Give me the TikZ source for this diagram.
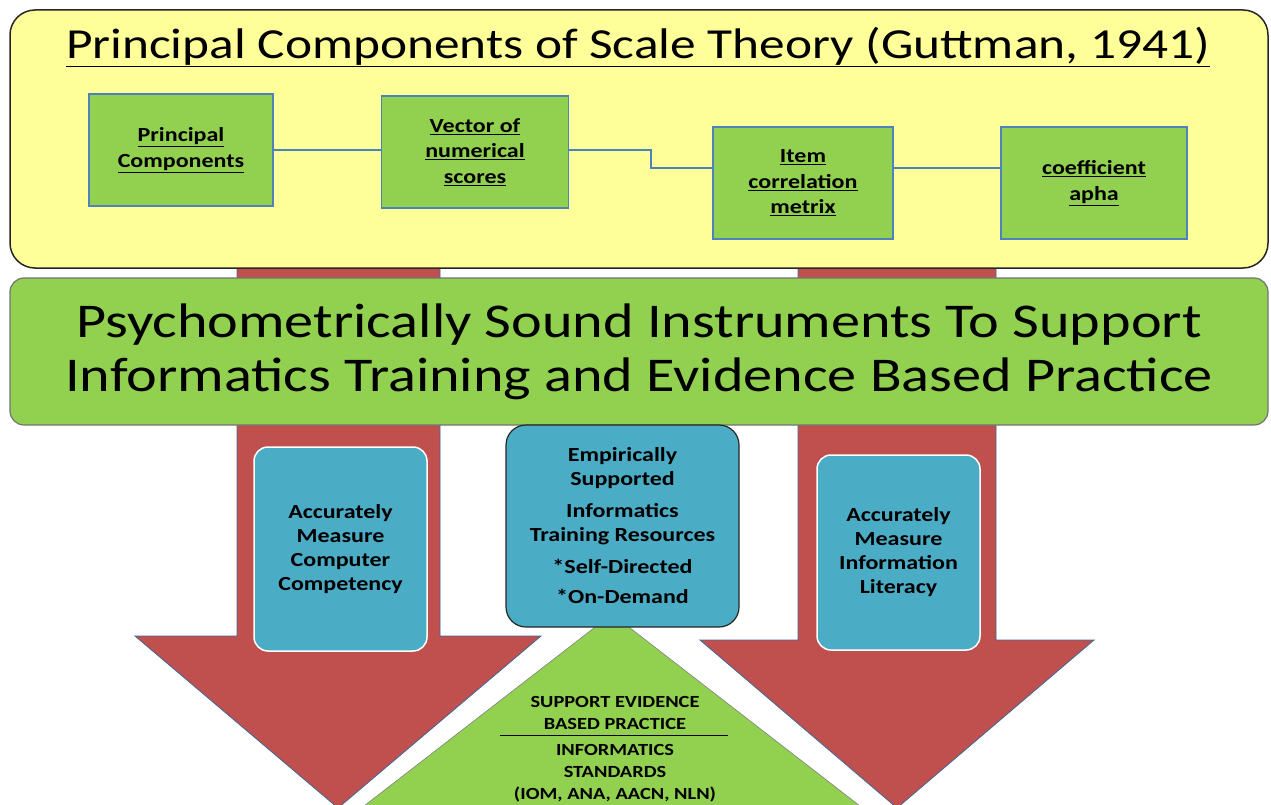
\documentclass[tikz,border=0pt]{standalone}
\usepackage{fontspec}
\setmainfont[FakeStretch=1.2]{Carlito}
\usetikzlibrary{positioning, shapes}

\definecolor{paleyellow}{HTML}{FFFF99}
\definecolor{leafgreen}{HTML}{92D050}
\definecolor{brickred}{HTML}{C0504D}
\definecolor{aqua}{HTML}{4BACC6}
\definecolor{linkblue}{HTML}{4F81BD}

\begin{document}
\begin{tikzpicture}[
            x=1pt, y=-1pt,
            comp/.style={draw=linkblue, fill=leafgreen, line width=1.2pt,
                align=center, inner sep=0pt,
                font=\fontsize{20}{25.5}\selectfont\bfseries},
            link/.style={draw=linkblue, line width=1.3pt},
            redarrow/.style={fill=brickred, draw=linkblue!80!black, line width=0.8pt, line join=miter},
            measure/.style={draw=white, fill=aqua, line width=1.5pt, rounded corners=14pt,
                align=center, inner sep=0pt,
                font=\fontsize{20}{24}\selectfont\bfseries},
            tritext/.style={align=center, inner sep=0pt,
                font=\fontsize{17}{22}\selectfont\bfseries},
        ]
            \useasboundingbox (0,0) rectangle (1271,805);
            \fill[white] (0,0) rectangle (1271,805);

            % arrows behind everything
            \draw[redarrow] (237,260) -- (237,636) -- (135,636) -- (338,808)
                -- (541,636) -- (440,636) -- (440,260) -- cycle;
            \draw[redarrow] (798,260) -- (798,640) -- (700,640) -- (897,808)
                -- (1094,640) -- (996,640) -- (996,260) -- cycle;

            % top panel
            \node[draw=black!85, fill=paleyellow, line width=1.5pt, rounded corners=25pt,
                minimum width=1258pt, minimum height=258pt, inner sep=0pt] (panel) at (639,139) {};
            \node[font=\fontsize{42.8}{48}\selectfont, inner sep=0pt] (title) at (638,47)
                {\underline{Principal Components of Scale Theory (Guttman, 1941)}};

            \node[comp, minimum width=184pt, minimum height=112pt] (pc) at (181,150)
                {\underline{Principal}\\\underline{Components}};
            \node[comp, minimum width=187pt, minimum height=112pt] (vec) at (475,152)
                {\underline{Vector of}\\\underline{numerical}\\\underline{scores}};
            \node[comp, minimum width=180pt, minimum height=112pt] (item) at (803,183)
                {\underline{Item}\\\underline{correlation}\\\underline{metrix}};
            \node[comp, minimum width=186pt, minimum height=112pt] (coef) at (1094,183)
                {\underline{coefficient}\\\underline{apha}};

            \draw[link] (pc.east) -- (pc.east -| vec.west);
            \draw[link] (vec.east |- pc.east) -- ++(82,0) |- ([yshift=15pt]item.west);
            \draw[link] ([yshift=15pt]item.east) -- ([yshift=15pt]item.east -| coef.west);

            % banner
            \node[draw=black!55, fill=leafgreen, line width=1.2pt, rounded corners=14pt,
                minimum width=1258pt, minimum height=147pt, inner sep=0pt,
                align=center, font=\fontsize{48.5}{54}\selectfont] (banner) at (639,351.5)
                {Psychometrically Sound Instruments To Support\\
                 Informatics Training and Evidence Based Practice};

            % standards triangle
            \draw[white, line width=14pt, line join=miter]
                (612,614) -- (333,830) -- (891,830) -- cycle;
            \draw[fill=leafgreen, draw=black!50, line width=0.6pt]
                (612,614) -- (333,830) -- (891,830) -- cycle;
            \node[tritext] (evid) at (615,713) {SUPPORT EVIDENCE\\BASED PRACTICE};
            \draw[line width=1.2pt] ([xshift=-115pt, yshift=-6pt]evid.south)
                -- ([xshift=113pt, yshift=-6pt]evid.south);
            \node[tritext, below=14pt of evid] (stds)
                {INFORMATICS\\STANDARDS\\(IOM, ANA, AACN, NLN)};

            % outcome boxes
            \node[measure, minimum width=173pt, minimum height=204pt] (comp) at (340.5,549)
                {Accurately\\Measure\\Computer\\Competency};
            \node[measure, minimum width=163pt, minimum height=195pt] (lit) at (898.5,552.5)
                {Accurately\\Measure\\Information\\Literacy};
            \node[measure, draw=black!85, line width=1.2pt, rounded corners=20pt,
                minimum width=233pt, minimum height=202pt] (train) at (622.5,526)
                {Empirically\\Supported\\[8pt]Informatics\\Training Resources\\[8pt]%
                 *Self-Directed\\[6pt]*On-Demand};
        \end{tikzpicture}
\end{document}
